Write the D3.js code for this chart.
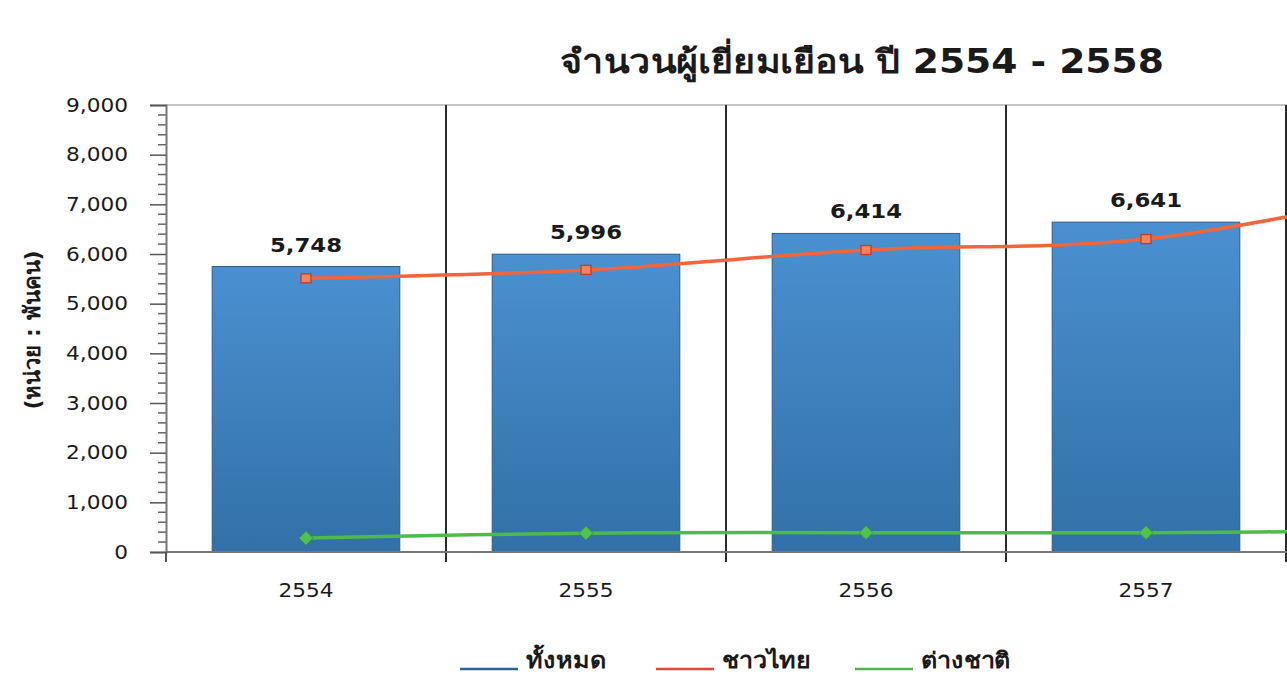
<!DOCTYPE html>
<html>
<head>
<meta charset="utf-8">
<script src="https://cdn.jsdelivr.net/npm/d3@7"></script>
<style>
  body { margin: 0; background: #fff; overflow: hidden; }
  svg { display: block; font-family: "DejaVu Sans", "Noto Sans", sans-serif; }
</style>
</head>
<body>
<div id="chart"></div>
<script>
    // data (2558 is cut off at the right edge)
    years = ["2554", "2555", "2556", "2557", "2558"]
    total = [5748, 5996, 6414, 6641, 7700]
    thai = [5510, 5680, 6080, 6300, 7300]
    foreign = [280, 380, 390, 390, 430]
    yTicks = [0, 1000, 2000, 3000, 4000, 5000, 6000, 7000, 8000, 9000]

    titleText = "จำนวนผู้เยี่ยมเยือน ปี 2554 - 2558"
    yLabel = "(หน่วย : พันคน)"
    legendNames = ["ทั้งหมด", "ชาวไทย", "ต่างชาติ"]
    legendColors = ["#2f6596", "#e8443a", "#4cb849"]

    canvas = ({width: 1287, height: 674})
    plot = ({left: 166, top: 105, bottom: 552, step: 280})
    sx = 1.14   // the reference text is stretched sideways

    var svg = d3.select("#chart").append("svg")
        .attr("width", canvas.width)
        .attr("height", canvas.height)

    var defs = svg.append("defs")
    var grad = defs.append("linearGradient")
        .attr("id", "barGrad")
        .attr("x1", 0).attr("y1", 0).attr("x2", 0).attr("y2", 1)
    grad.append("stop").attr("offset", "0%").attr("stop-color", "#4a90d0")
    grad.append("stop").attr("offset", "100%").attr("stop-color", "#3270a8")

    x = d3.scaleBand()
        .domain(years)
        .range([plot.left, plot.left + plot.step * years.length])
        .paddingInner(0.33)
        .paddingOuter(0.165)

    xc = d => x(d) + x.bandwidth() / 2
    // categories whose centre is past the right edge get no text (cropped in the reference)
    inView = d => xc(d) < canvas.width

    y = d3.scaleLinear()
        .domain([0, 9000])
        .range([plot.bottom, plot.top])

    function addText(g, px, py, str, size, weight, anchor) {
        return g.append("text")
            .attr("transform", `translate(${px},${py}) scale(${sx},1)`)
            .attr("text-anchor", anchor || "middle")
            .attr("font-size", size)
            .attr("font-weight", weight || "normal")
            .attr("fill", "#1a1a1a")
            .text(str)
    }

    // top border of the plot area
    svg.append("line")
        .attr("x1", plot.left).attr("x2", canvas.width)
        .attr("y1", y(9000)).attr("y2", y(9000))
        .attr("stroke", "#b0b0b0").attr("stroke-width", 1.5)

    // category separators
    var seps = d3.range(years.length + 1).map(i => plot.left + i * plot.step)
    svg.append("g").selectAll("line")
        .data(seps.slice(1))
        .join("line")
        .attr("x1", d => d).attr("x2", d => d)
        .attr("y1", plot.top).attr("y2", plot.bottom + 10)
        .attr("stroke", "#2b2b2b").attr("stroke-width", 2)

    // bars
    svg.append("g").selectAll("rect")
        .data(years)
        .join("rect")
        .attr("x", d => x(d))
        .attr("width", x.bandwidth())
        .attr("y", (d, i) => y(total[i]))
        .attr("height", (d, i) => y(0) - y(total[i]))
        .attr("fill", "url(#barGrad)")
        .attr("stroke", "#2a5d8c")
        .attr("stroke-width", 1)

    // bar labels
    var lab = svg.append("g")
    years.forEach((d, i) => {
        if (inView(d)) addText(lab, xc(d), y(total[i]) - 15, d3.format(",")(total[i]), 20, "bold")
    })

    // lines
    line = d3.line()
        .x(d => xc(d[0]))
        .y(d => y(d[1]))
        .curve(d3.curveCatmullRom.alpha(0.5))

    svg.append("path")
        .attr("fill", "none")
        .attr("stroke", "#f0663c")
        .attr("stroke-width", 3.5)
        .attr("d", line(d3.zip(years, thai)))

    svg.append("path")
        .attr("fill", "none")
        .attr("stroke", "#4cbb4a")
        .attr("stroke-width", 3.5)
        .attr("d", line(d3.zip(years, foreign)))

    svg.append("g").selectAll("rect")
        .data(years)
        .join("rect")
        .attr("x", d => xc(d) - 5)
        .attr("y", (d, i) => y(thai[i]) - 4.5)
        .attr("width", 10).attr("height", 9)
        .attr("fill", "#f4825e")
        .attr("stroke", "#c8392a")
        .attr("stroke-width", 1.3)

    svg.append("g").selectAll("path")
        .data(years)
        .join("path")
        .attr("transform", (d, i) => `translate(${xc(d)},${y(foreign[i])})`)
        .attr("d", d3.symbol(d3.symbolDiamond2, 120))
        .attr("fill", "#52c24f")
        .attr("stroke", "#3a9e3a")
        .attr("stroke-width", 1)

    // y axis
    var yMinor = d3.range(0, 9001, 200).filter(v => v % 1000 != 0)
    svg.append("g")
        .attr("transform", `translate(${plot.left},0)`)
        .selectAll("line")
        .data(yMinor)
        .join("line")
        .attr("x1", -8).attr("x2", 0)
        .attr("y1", d => y(d)).attr("y2", d => y(d))
        .attr("stroke", "#666").attr("stroke-width", 1.5)

    var yAx = svg.append("g")
        .attr("transform", `translate(${plot.left},0)`)
        .call(d3.axisLeft(y).tickValues(yTicks).tickFormat(d3.format(",")).tickSize(16).tickPadding(22))
    yAx.select(".domain").attr("stroke", "#777").attr("stroke-width", 2)
    yAx.selectAll(".tick line").attr("stroke", "#555").attr("stroke-width", 1.5)
    yAx.selectAll("text")
        .attr("font-size", 19)
        .attr("font-family", "DejaVu Sans")
        .attr("fill", "#1a1a1a")
        .each(function() {
            var t = d3.select(this)
            t.attr("x", +t.attr("x") / sx).attr("transform", `scale(${sx},1)`)
        })

    // x axis
    svg.append("line")
        .attr("x1", plot.left).attr("x2", canvas.width)
        .attr("y1", y(0)).attr("y2", y(0))
        .attr("stroke", "#777").attr("stroke-width", 2)
    svg.append("line")
        .attr("x1", plot.left).attr("x2", plot.left)
        .attr("y1", y(0)).attr("y2", y(0) + 10)
        .attr("stroke", "#555").attr("stroke-width", 2)

    var xl = svg.append("g")
    years.filter(inView).forEach(d => addText(xl, xc(d), 597, d, 19))

    // title and y label
    addText(svg, 862, 73, titleText, 33, "bold")
    svg.append("text")
        .attr("transform", `translate(40,330) rotate(-90)`)
        .attr("text-anchor", "middle")
        .attr("font-size", 22)
        .attr("font-weight", "bold")
        .attr("fill", "#1a1a1a")
        .text(yLabel)

    // legend
    legendX = [460, 656, 855]
    var leg = svg.append("g")
    legendNames.forEach((n, i) => {
        leg.append("line")
            .attr("x1", legendX[i]).attr("x2", legendX[i] + 58)
            .attr("y1", 669).attr("y2", 669)
            .attr("stroke", legendColors[i]).attr("stroke-width", 2.5)
        addText(leg, legendX[i] + 66, 668, n, 22, "bold", "start")
    })
</script>
</body>
</html>
